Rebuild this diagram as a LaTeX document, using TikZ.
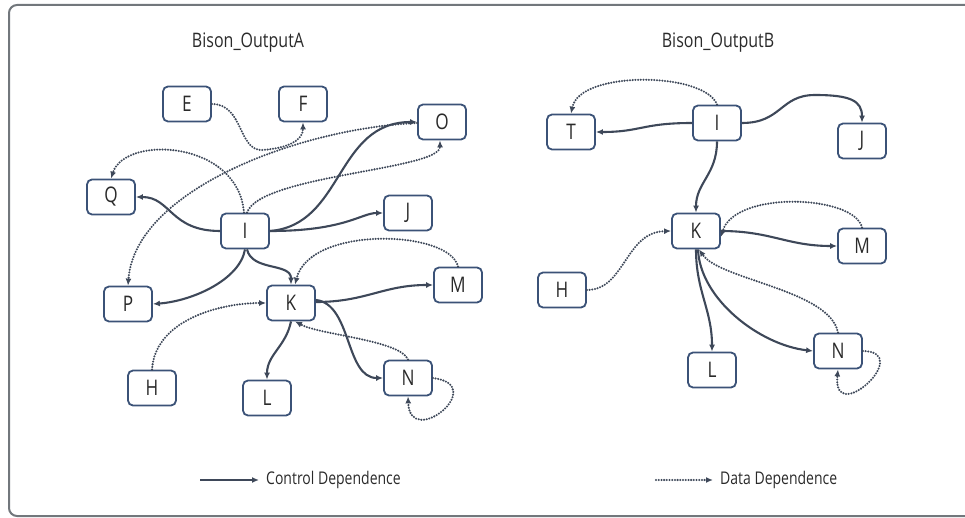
\documentclass[tikz,border=0pt]{standalone}
\usepackage{fontspec}
\setmainfont{Open Sans}[FakeStretch=0.8]
\usetikzlibrary{arrows.meta}
\definecolor{edgec}{HTML}{3E4859}
\definecolor{boxc}{HTML}{3B5277}
\definecolor{txtc}{HTML}{2A2A2A}
\definecolor{framec}{HTML}{72777C}
\tikzset{
  box/.style={draw=boxc, line width=1.8pt, rounded corners=5pt, fill=white,
    minimum width=48pt, minimum height=35pt, inner sep=0pt,
    font=\fontsize{21.5}{21.5}\selectfont, text=txtc},
  ctrl/.style={draw=edgec, line width=2.1pt, -{Latex[length=7pt,width=6pt]}},
  data/.style={draw=edgec, line width=2.3pt, line cap=round,
    dash pattern=on 0pt off 2.7pt, -{Latex[length=7pt,width=6pt]}},
  title/.style={font=\fontsize{20}{20}\selectfont, text=txtc},
  legtext/.style={font=\fontsize{17.5}{18}\selectfont, text=txtc, anchor=west, inner sep=0pt}
}
\begin{document}
\begin{tikzpicture}[x=1pt,y=-1pt]
\useasboundingbox (0,0) rectangle (965,518);
\draw[framec, line width=2pt, rounded corners=8pt] (9,5) rectangle (975,516);

% titles
\node[title] (tA) at (248,43) {Bison\_OutputA};
\node[title] (tB) at (718,43) {Bison\_OutputB};

% ---------- panel A ----------
\node[box] (E) at (187,104) {E};
\node[box] (F) at (303,104) {F};
\node[box] (O) at (442,122) {O};
\node[box] (Q) at (111,197) {Q};
\node[box] (I) at (245,231) {I};
\node[box] (J) at (408,213) {J};
\node[box] (P) at (128,304) {P};
\node[box] (K) at (291,303) {K};
\node[box] (M) at (458,285) {M};
\node[box] (H) at (152,388) {H};
\node[box] (L) at (267,398) {L};
\node[box] (N) at (408,378) {N};

% control
\draw[ctrl] (I.west) .. controls +(-50,0) and +(35,0) .. (Q.east);
\draw[ctrl] (I.east) .. controls +(74,-6) and +(-82,0) .. (O.west);
\draw[ctrl] (I.east) .. controls +(75,0) and +(-22,0) .. (J.west);
\draw[ctrl] (I.south) .. controls +(-5,30) and +(40,-3) .. (P.east);
\draw[ctrl] ([xshift=2pt]I.south) .. controls +(5,22) and +(0,-22) .. (K.north);
\draw[ctrl] ([yshift=1pt]K.east) .. controls +(50,0) and +(-50,0) .. (M.west);
\draw[ctrl] ([yshift=3pt]K.east) .. controls +(36,4) and +(-38,0) .. (N.west);
\draw[ctrl] (K.south) .. controls +(-5,25) and +(0,-25) .. (L.north);

% data
\coordinate (efm) at (263,150);
\draw[data] (E.east) .. controls +(32,0) and +(-25,2) .. (efm) .. controls +(25,-2) and +(0,18) .. (F.south);
\draw[data] ([yshift=-1pt]O.west) .. controls (300,128) and (135,190) .. (P.north);
\draw[data] ([xshift=-1pt]I.north) .. controls (238,140) and (125,135) .. (Q.north);
\draw[data] ([xshift=2pt]I.north) .. controls (260,175) and (440,170) .. ([xshift=-2pt]O.south);
\draw[data] (M.north) .. controls (450,230) and (310,225) .. ([xshift=4pt]K.north);
\draw[data] (H.north) .. controls (155,320) and (220,303) .. (K.west);
\draw[data] (N.north) .. controls (400,340) and (320,335) .. ([xshift=4pt]K.south);
\draw[data] (N.east) .. controls (490,385) and (410,450) .. (N.south);

% ---------- panel B ----------
\node[box] (T2) at (571,132) {T};
\node[box] (I2) at (717,123) {I};
\node[box] (J2) at (862,141) {J};
\node[box] (K2) at (696,231) {K};
\node[box] (M2) at (862,246) {M};
\node[box] (H2) at (562,290) {H};
\node[box] (L2) at (712,370) {L};
\node[box] (N2) at (838,351) {N};

% control
\draw[ctrl] (I2.west) .. controls +(-50,0) and +(45,0) .. (T2.east);
\coordinate (ijm) at (815,95);
\draw[ctrl] (I2.east) .. controls +(40,0) and +(-35,0) .. (ijm) .. controls +(35,0) and +(0,-22) .. (J2.north);
\draw[ctrl] (I2.south) .. controls +(0,33) and +(0,-30) .. (K2.north);
\draw[ctrl] (K2.east) .. controls +(50,0) and +(-50,0) .. (M2.west);
\draw[ctrl] (K2.south) .. controls +(0,42) and +(0,-42) .. (L2.north);
\draw[ctrl] ([xshift=2pt]K2.south) .. controls +(2,50) and +(-53,-6) .. (N2.west);

% data
\draw[data] (I2.north) .. controls (705,72) and (580,70) .. (T2.north);
\draw[data] (M2.north) .. controls (855,195) and (735,190) .. ([yshift=-6pt]K2.east);
\draw[data] (H2.east) .. controls (625,290) and (625,232) .. (K2.west);
\draw[data] (N2.north) .. controls (830,290) and (720,280) .. ([xshift=3pt]K2.south);
\draw[data] (N2.east) .. controls (915,352) and (832,428) .. (N2.south);

% ---------- legend ----------
\coordinate (lc1) at (200,480);
\coordinate (lc2) at (259,480);
\draw[ctrl] (lc1) -- (lc2);
\node[legtext] (lct) at (266,480) {Control Dependence};
\coordinate (ld1) at (656,480);
\coordinate (ld2) at (713,480);
\draw[data] (ld1) -- (ld2);
\node[legtext] (ldt) at (720,480) {Data Dependence};
\end{tikzpicture}
\end{document}
